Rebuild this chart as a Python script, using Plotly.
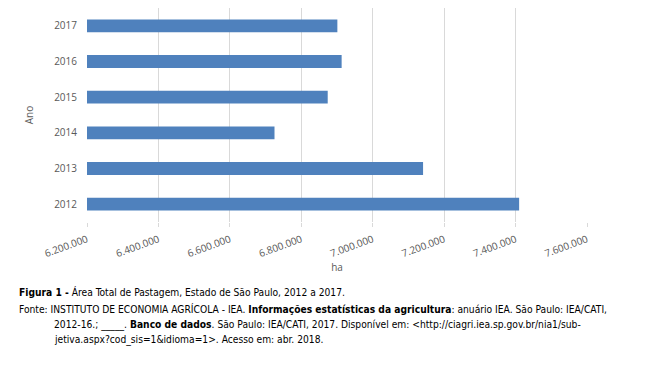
import plotly.graph_objects as go

anos = ["2012", "2013", "2014", "2015", "2016", "2017"]
area_ha = [7410000, 7141000, 6725000, 6874000, 6913000, 6901000]
x_ticks = [6200000, 6400000, 6600000, 6800000, 7000000, 7200000, 7400000, 7600000]
x_tick_labels = ["6.200.000", "6.400.000", "6.600.000", "6.800.000",
                 "7.000.000", "7.200.000", "7.400.000", "7.600.000"]

# page has an 8px body margin; work in page pixels and subtract it
OFF = 8
W, H = 648 - OFF, 378 - OFF
L = 87 - OFF
T = 8 - OFF
pw = 500
ph = 214
R = W - L - pw
B = H - T - ph

def px(X):
    return (X - OFF - L) / pw

def py(Y):
    return (T + ph - (Y - OFF)) / ph

fig = go.Figure(go.Bar(
    x=area_ha, y=anos, orientation="h",
    marker=dict(color="#4F81BD", line=dict(width=0)),
    hoverinfo="skip",
))

fig.update_layout(
    width=W, height=H,
    margin=dict(l=L, r=R, t=T, b=B, pad=0),
    paper_bgcolor="white", plot_bgcolor="white",
    bargap=0.64,
    showlegend=False,
    font=dict(family="Open Sans, sans-serif", color="#595959", size=10),
)

fig.update_xaxes(
    range=[6200000, 7600000],
    tickvals=x_ticks, ticktext=x_tick_labels,
    tickangle=-20, automargin=False,
    showgrid=True, gridcolor="#D9D9D9", gridwidth=1,
    zeroline=False, showline=False,
    ticks="outside", ticklen=4, tickcolor="#D9D9D9",
    ticklabelstandoff=3,
    tickfont=dict(size=10, color="#595959"),
    title=dict(text="ha", font=dict(size=10, color="#595959"), standoff=2),
)
fig.update_yaxes(
    type="category", categoryorder="array", categoryarray=anos,
    showgrid=False, zeroline=False, showline=False, automargin=False,
    ticks="", ticklabelstandoff=9,
    tickfont=dict(size=10, color="#595959"),
    title=dict(text="Ano", font=dict(size=10, color="#595959"), standoff=18),
)

cap_font = dict(family="DejaVu Sans Condensed, DejaVu Sans, sans-serif", size=10.2, color="#000000")
caption = [
    (17, 292, "<b>Figura 1 -</b> Área Total de Pastagem, Estado de São Paulo, 2012 a 2017."),
    (17, 309, "Fonte: INSTITUTO DE ECONOMIA AGRÍCOLA - IEA. <b>Informações estatísticas da agricultura</b>: anuário IEA. São Paulo: IEA/CATI,"),
    (52, 325, "2012-16.; _____. <b>Banco de dados</b>. São Paulo: IEA/CATI, 2017. Disponível em: &lt;http://ciagri.iea.sp.gov.br/nia1/sub-"),
    (52, 340, "jetiva.aspx?cod_sis=1&amp;idioma=1&gt;. Acesso em: abr. 2018."),
]
for X, Y, txt in caption:
    fig.add_annotation(
        x=px(X), y=py(Y), xref="paper", yref="paper",
        xanchor="left", yanchor="middle", text=txt, showarrow=False,
        font=cap_font, align="left",
    )

fig.write_html("out.html")
